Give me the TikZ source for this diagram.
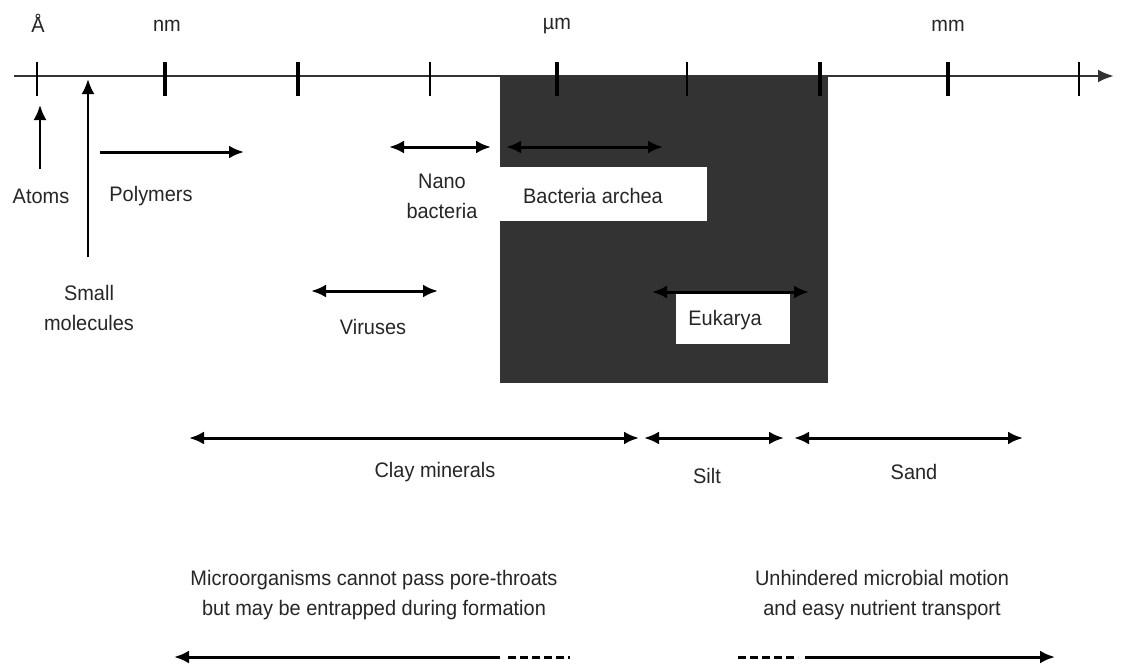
\documentclass[tikz,border=0pt]{standalone}
\usepackage{fontspec}
\setmainfont{Liberation Sans}[FakeStretch=0.95]
\usetikzlibrary{arrows.meta}
\begin{document}
\begin{tikzpicture}[x=1pt,y=-1pt,
  lbl/.style={font=\fontsize{21}{30}\selectfont, align=center, inner sep=0pt, text=black!85},
  arr/.style={line width=3pt, -{Latex[length=15pt,width=13pt]}},
  darr/.style={line width=3pt, {Latex[length=15pt,width=13pt]}-{Latex[length=15pt,width=13pt]}},
  dashline/.style={line width=3pt, dash pattern=on 8pt off 4pt},
  tick/.style={line width=2.2pt},
  ttick/.style={line width=3.2pt},
  wbox/.style={fill=white, draw=none, inner sep=0pt, anchor=north west}]
\path[use as bounding box, fill=white] (0,0) rectangle (1124,669);

% dark region
\fill[black!80] (500,76) rectangle (828,383);
\node[wbox, minimum width=207pt, minimum height=54pt] (bacbox) at (500,167) {};
\node[wbox, minimum width=114pt, minimum height=50pt] (eukbox) at (676,294) {};

% axis
\coordinate (ax0) at (14,76);
\coordinate (ax1) at (1114,76);
\draw[line width=2.8pt, black!80, -{Latex[length=16pt,width=13pt]}] (ax0) -- (ax1);
\foreach \x in {37,430,687,1079} \draw[tick] (\x,62) -- (\x,96);
\foreach \x in {165,298,557,820,948} \draw[ttick] (\x,62) -- (\x,96);

% axis labels
\node[lbl] (ang) at (38,23) {Å};
\node[lbl] (nm) at (167,26) {nm};
\node[lbl] (um) at (557,26) {µm};
\node[lbl] (mm) at (948,26) {mm};

% atoms
\node[lbl] (atoms) at (41,196) {Atoms};
\coordinate (atomfoot) at (40,169);
\coordinate (atomtop) at (40,105);
\draw[arr, line width=2.2pt] (atomfoot) -- (atomtop);

% small molecules
\node[lbl] (smallmol) at (89,308) {Small\\molecules};
\coordinate (smfoot) at (88,257);
\coordinate (smtop) at (88,79);
\draw[arr, line width=2.4pt] (smfoot) -- (smtop);

% polymers
\node[lbl] (poly) at (151,196) {Polymers};
\coordinate (p0) at (100,152);
\coordinate (p1) at (244,152);
\draw[arr] (p0) -- (p1);

% nano bacteria
\node[lbl] (nano) at (442,196) {Nano\\bacteria};
\coordinate (n0) at (389,147);
\coordinate (n1) at (491,147);
\draw[darr] (n0) -- (n1);

% bacteria archea
\node[lbl] (bac) at (593,196) {Bacteria archea};
\coordinate (b0) at (506,147);
\coordinate (b1) at (663,147);
\draw[darr] (b0) -- (b1);

% viruses
\node[lbl] (vir) at (373,327) {Viruses};
\coordinate (v0) at (311,291);
\coordinate (v1) at (438,291);
\draw[darr] (v0) -- (v1);

% eukarya
\node[lbl] (euk) at (725,320) {Eukarya};
\coordinate (e0) at (652,292);
\coordinate (e1) at (809,292);
\draw[darr] (e0) -- (e1);

% sediments
\node[lbl] (clay) at (435,472) {Clay minerals};
\coordinate (c0) at (189,438);
\coordinate (c1) at (639,438);
\draw[darr] (c0) -- (c1);

\node[lbl] (silt) at (707,476) {Silt};
\coordinate (s0) at (644,438);
\coordinate (s1) at (784,438);
\draw[darr] (s0) -- (s1);

\node[lbl] (sand) at (914,472) {Sand};
\coordinate (d0) at (794,438);
\coordinate (d1) at (1023,438);
\draw[darr] (d0) -- (d1);

% bottom statements
\node[lbl] (micro) at (374,595) {Microorganisms cannot pass pore-throats\\but may be entrapped during formation};
\node[lbl] (unh) at (882,595) {Unhindered microbial motion\\and easy nutrient transport};

\coordinate (l0) at (174,657);
\coordinate (l1) at (500,657);
\coordinate (l1b) at (508,657);
\coordinate (l2) at (570,657);
\draw[line width=3pt, {Latex[length=15pt,width=13pt]}-] (l0) -- (l1);
\draw[dashline] (l1b) -- (l2);

\coordinate (r0) at (738,657);
\coordinate (r1) at (798,657);
\coordinate (r1b) at (805,657);
\coordinate (r2) at (1055,657);
\draw[dashline] (r0) -- (r1);
\draw[arr] (r1b) -- (r2);
\end{tikzpicture}
\end{document}
